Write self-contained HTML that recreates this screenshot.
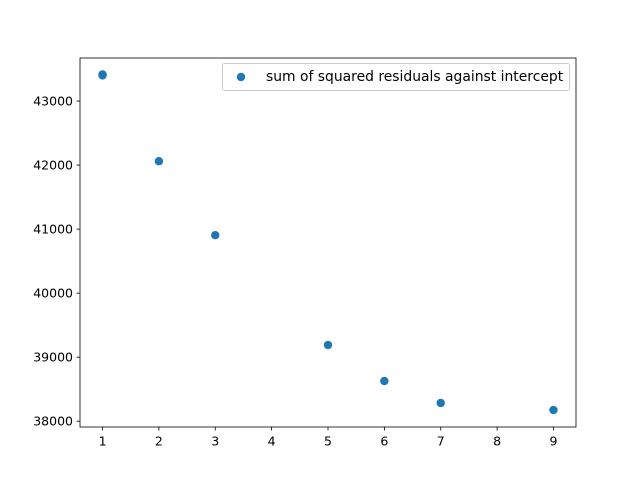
<!DOCTYPE html>
<html><head><meta charset="utf-8"><style>body{margin:0;background:#fff}svg{display:block;font-family:"DejaVu Sans","Liberation Sans",sans-serif}</style></head>
<body>
<svg width="640" height="480" id="chart">
<rect x="0" y="0" width="640" height="480" fill="#fff"/>
<g id="marks"></g>
<g id="axes"></g>
<rect x="80" y="58" width="496" height="369" fill="none" stroke="#000" stroke-width="0.8"/>
<g>
<rect x="222.5" y="63.5" width="347" height="27" rx="2" fill="#fff" fill-opacity="0.8" stroke="#ccc"/>
<circle cx="241" cy="77" r="4.2" fill="#1f77b4"/>
<text x="266" y="81" font-size="13.9" fill="#000">sum of squared residuals against intercept</text>
</g>
</svg>
<script>
const xValues = [1, 1, 1, 2, 3, 5, 6, 7, 9];
const yValues = [43410, 43400, 43415, 42060, 40905, 39190, 38628, 38285, 38175];
const xTicks = [1, 2, 3, 4, 5, 6, 7, 8, 9];
const yTicks = [38000, 39000, 40000, 41000, 42000, 43000];
const NS = "http://www.w3.org/2000/svg";
const L = 80, R = 576, T = 58, B = 427;
const xMin = 0.6, xMax = 9.4, yMin = 37910, yMax = 43672;
function sx(v){ return L + (v - xMin) / (xMax - xMin) * (R - L); }
function sy(v){ return B - (v - yMin) / (yMax - yMin) * (B - T); }
const marks = document.getElementById('marks');
const axes = document.getElementById('axes');
function mk(tag, attrs, parent){ const e = document.createElementNS(NS, tag); for (const k in attrs) e.setAttribute(k, attrs[k]); parent.appendChild(e); return e; }
xValues.forEach((x, i) => {
  const c = mk('circle', {cx: sx(x), cy: sy(yValues[i]), r: 4.2, fill: '#1f77b4'}, marks);
  
  
});
xTicks.forEach(t => {
  const X = sx(t);
  const l = mk('line', {x1: X, x2: X, y1: B, y2: B + 3.5, stroke: '#000', 'stroke-width': 0.8}, axes);
  
  
  const tx = mk('text', {x: X, y: B + 18.5, 'font-size': 12.5, 'text-anchor': 'middle'}, axes);
  tx.textContent = t;
  
  
});
yTicks.forEach(t => {
  const Y = sy(t);
  const l = mk('line', {x1: L - 3.5, x2: L, y1: Y, y2: Y, stroke: '#000', 'stroke-width': 0.8}, axes);
  
  
  const tx = mk('text', {x: L - 7, y: Y + 4.5, 'font-size': 12.5, 'text-anchor': 'end'}, axes);
  tx.textContent = t;
  
  
});
</script>
</body></html>
